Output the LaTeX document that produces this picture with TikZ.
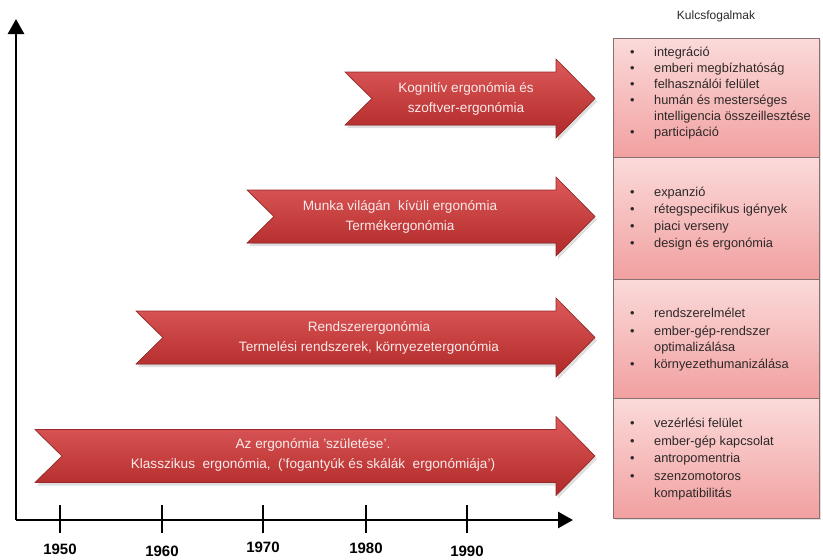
\documentclass[tikz,border=0pt]{standalone}
\usepackage{fontspec}
\setmainfont{Liberation Sans}
\usetikzlibrary{shadows,arrows.meta}

\definecolor{arrowtop}{RGB}{222,90,90}
\definecolor{arrowmid}{RGB}{206,60,60}
\definecolor{arrowbot}{RGB}{176,40,40}
\definecolor{arrowedge}{RGB}{150,42,42}
\definecolor{boxtop}{RGB}{251,218,218}
\definecolor{boxmid}{RGB}{252,226,226}
\definecolor{boxbot}{RGB}{242,160,160}
\definecolor{boxedge}{RGB}{135,112,112}
\definecolor{itemtext}{RGB}{45,40,40}
\definecolor{ribbontext}{RGB}{250,234,234}

% ribbon arrow: notched tail at x=#1, centre line at y=#2
\newcommand\ribbonshape[2]{%
  \fill[ribbon] (#1,{#2-26.5}) -- (556,{#2-26.5}) -- (556,{#2-39.5}) -- (595,#2)
    -- (556,{#2+39.5}) -- (556,{#2+26.5}) -- (#1,{#2+26.5}) -- ({#1+27},#2) -- cycle;
  \draw[ribbonedge] (#1,{#2-26.5}) -- (556,{#2-26.5}) -- (556,{#2-39.5}) -- (595,#2)
    -- (556,{#2+39.5}) -- (556,{#2+26.5}) -- (#1,{#2+26.5}) -- ({#1+27},#2) -- cycle;
}
\newcommand\itm{\makebox[24pt][l]{•}}

\begin{document}
\begin{tikzpicture}[x=1pt,y=-1pt,
  ribbon/.style={top color=arrowtop, middle color=arrowmid, bottom color=arrowbot,
    drop shadow={opacity=0.25, shadow xshift=2pt, shadow yshift=-3pt}},
  ribbonedge/.style={draw=arrowedge, line width=0.6pt, line join=miter},
  ribbonlabel/.style={align=center, text=ribbontext, inner sep=0pt,
    font=\fontsize{13.6}{20}\selectfont},
  axisline/.style={line width=2.8pt, line join=miter},
  tickmark/.style={line width=2.6pt},
  yearlabel/.style={font=\fontsize{15}{16}\selectfont\bfseries, inner sep=0pt},
  conceptbox/.style={draw=boxedge, line width=0.6pt, top color=boxtop,
    middle color=boxmid, bottom color=boxbot,
    drop shadow={opacity=0.25, shadow xshift=2pt, shadow yshift=-2pt}},
  item/.style={anchor=base west, inner sep=0pt, text=itemtext,
    font=\fontsize{12.8}{14}\selectfont},
]
\useasboundingbox (0,0) rectangle (823,560);

% concept boxes on the right
\fill[conceptbox] (613,38) rectangle (819,157);
\fill[conceptbox] (613,157) rectangle (819,279);
\fill[conceptbox] (613,279) rectangle (819,398);
\fill[conceptbox] (613,398) rectangle (819,518);
\draw[draw=boxedge, line width=0.6pt] (613,38) rectangle (819,157);
\draw[draw=boxedge, line width=0.6pt] (613,157) rectangle (819,279);
\draw[draw=boxedge, line width=0.6pt] (613,279) rectangle (819,398);
\draw[draw=boxedge, line width=0.6pt] (613,398) rectangle (819,518);

\node[text=itemtext, font=\fontsize{12}{14}\selectfont] (title) at (716,16) {Kulcsfogalmak};

% items of the top box
\node[item] (a1) at (630,56.5)  {\itm integráció};
\node[item] (a2) at (630,72.5)  {\itm emberi megbízhatóság};
\node[item] (a3) at (630,88.5)  {\itm felhasználói felület};
\node[item] (a4) at (630,104.5) {\itm humán és mesterséges};
\node[item] (a5) at (654,120.5) {intelligencia összeillesztése};
\node[item] (a6) at (630,136.5) {\itm participáció};

% items of the second box
\node[item] (b1) at (630,196.5) {\itm expanzió};
\node[item] (b2) at (630,213.5) {\itm rétegspecifikus igények};
\node[item] (b3) at (630,230.5) {\itm piaci verseny};
\node[item] (b4) at (630,247.5) {\itm design és ergonómia};

% items of the third box
\node[item] (c1) at (630,317.5) {\itm rendszerelmélet};
\node[item] (c2) at (630,335)   {\itm ember-gép-rendszer};
\node[item] (c3) at (654,351.5) {optimalizálása};
\node[item] (c4) at (630,368)   {\itm környezethumanizálása};

% items of the bottom box
\node[item] (d1) at (630,427.5) {\itm vezérlési felület};
\node[item] (d2) at (630,445)   {\itm ember-gép kapcsolat};
\node[item] (d3) at (630,462.5) {\itm antropomentria};
\node[item] (d4) at (630,480)   {\itm szenzomotoros};
\node[item] (d5) at (654,497.5) {kompatibilitás};

% ribbon arrows
\ribbonshape{345}{98.5}
\ribbonshape{247}{216.5}
\ribbonshape{136}{337.5}
\ribbonshape{35}{456}

\node[ribbonlabel] (r1) at (466,98.5) {Kognitív ergonómia és\\szoftver-ergonómia};
\node[ribbonlabel] (r2) at (400,216.5) {Munka világán\ \ kívüli ergonómia\\Termékergonómia};
\node[ribbonlabel] (r3) at (369,337.5) {Rendszerergonómia\\Termelési rendszerek, környezetergonómia};
\node[ribbonlabel] (r4) at (313,455) {Az ergonómia 'születése'.\\Klasszikus\ \ ergonómia,\ \ ('fogantyúk és skálák\ \ ergonómiája')};

% axes
\coordinate (origin) at (16,520);
\coordinate (ytip) at (16,19);
\coordinate (xtip) at (573,520);
\draw[axisline, -{Triangle[length=15pt,width=16pt]}] (origin) -- (ytip);
\draw[axisline, -{Triangle[length=15pt,width=16pt]}] (origin) -- (xtip);

% decade ticks and labels
\foreach \x/\yr/\ly in {60/1950/549, 162/1960/551, 263/1970/547, 366/1980/548, 467/1990/551} {
  \draw[tickmark] (\x,505) -- (\x,533);
  \node[yearlabel] (y\yr) at (\x,\ly) {\yr};
}
\end{tikzpicture}
\end{document}
